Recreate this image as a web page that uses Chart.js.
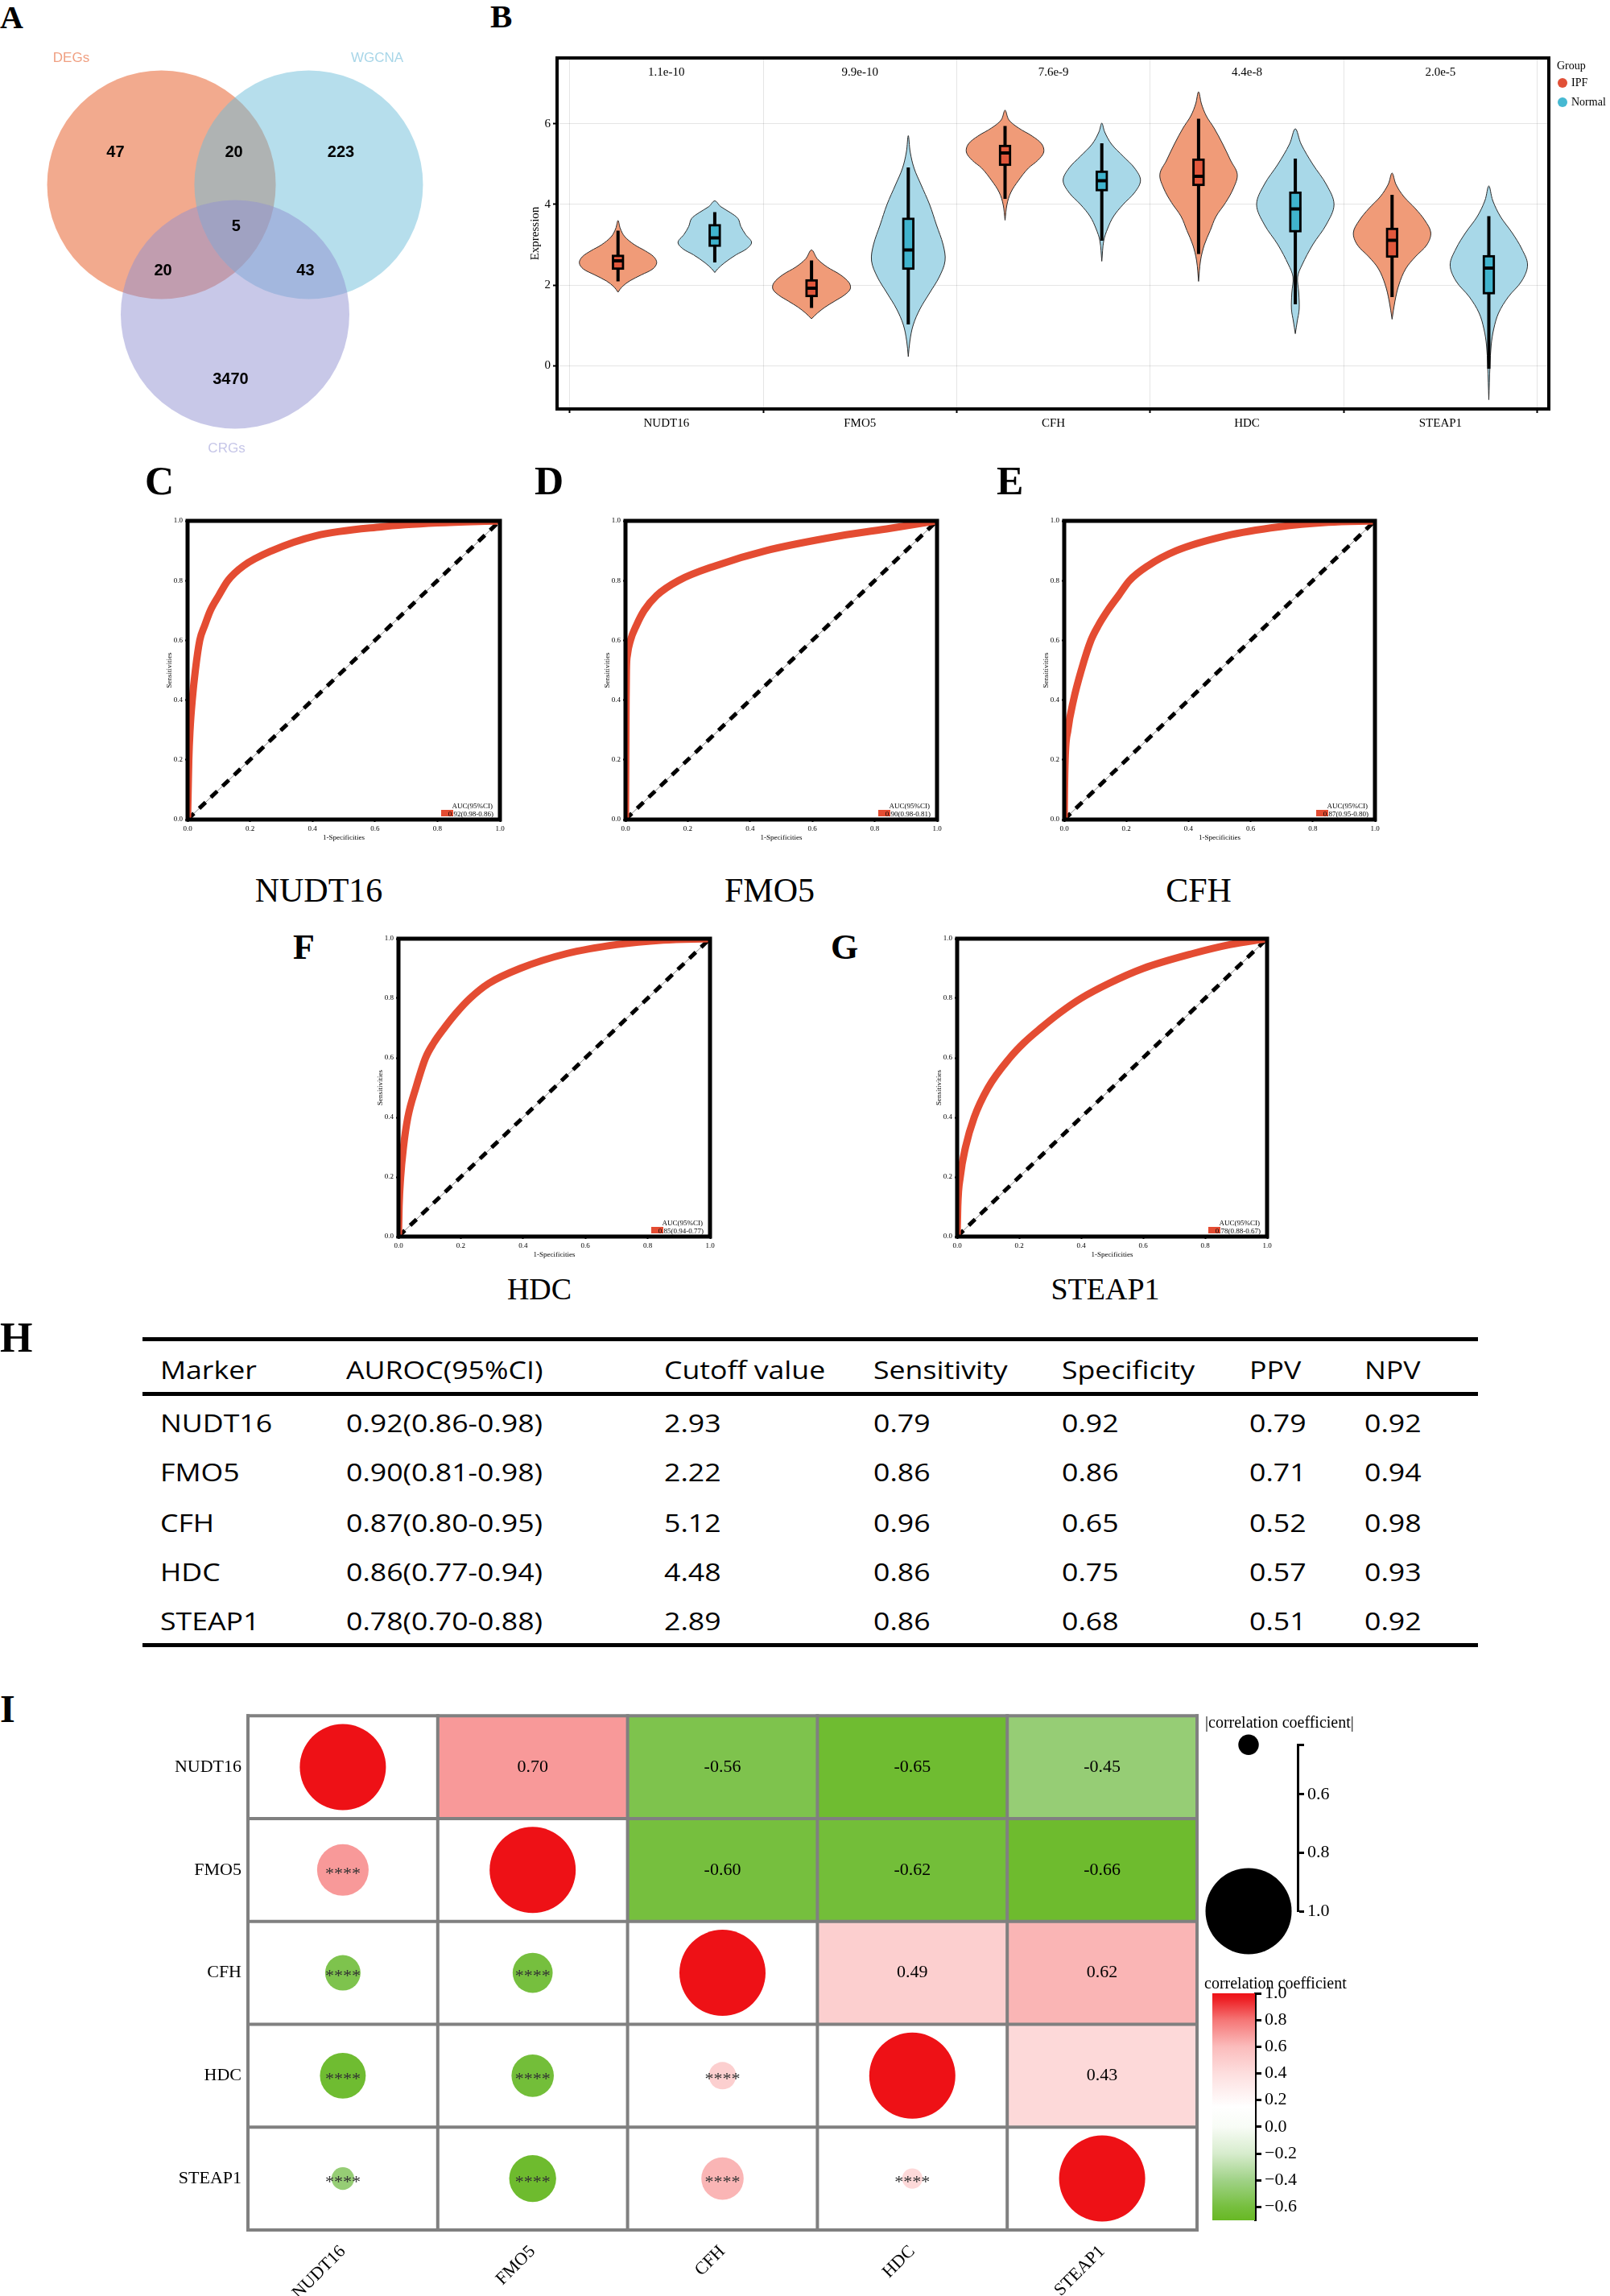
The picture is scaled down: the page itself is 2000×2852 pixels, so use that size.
<!DOCTYPE html>
<html><head><meta charset="utf-8">
<script src="https://cdn.jsdelivr.net/npm/chart.js@4.4.1/dist/chart.umd.min.js"></script>
<style>
html,body{margin:0;padding:0;background:#fff;}
#page{position:relative;width:2000px;height:2852px;overflow:hidden;background:#fff;}
canvas{position:absolute;}
.lbl{position:absolute;font-family:'Liberation Serif','Times New Roman',serif;font-weight:bold;line-height:1;color:#000;white-space:nowrap;}
.gt{position:absolute;font-family:'Liberation Serif','Times New Roman',serif;line-height:1;color:#000;white-space:nowrap;text-align:center;width:400px;}
.tc{position:absolute;font-family:'Open Sans',sans-serif;font-size:31px;line-height:1;color:#000;white-space:nowrap;transform-origin:left center;transform:translateY(-50%) scaleX(1.15);}
.rule{position:absolute;background:#000;}
.leg{position:absolute;font-family:'Liberation Serif','Times New Roman',serif;font-size:20px;line-height:1;color:#000;white-space:nowrap;transform:translateY(-50%);}
</style></head><body><div id="page"></div>
<script>
// ================= DATA =================
// Panel A (Venn) — set layout in unit-circle coordinates
const vennSets = ['DEGs','WGCNA','CRGs'];
const vennCenterX = [-0.644, 0.644, 0];
const vennCenterY = [0.567, 0.567, -0.567];
const vennRadius = [1, 1, 1];
const vennSetLabelX = [-1.433, 1.243, -0.074];
const vennSetLabelY = [1.673, 1.673, -1.743];
const vennCounts = ['47','20','223','5','20','43','3470'];
const vennCountX = [-1.046, -0.01, 0.926, 0.01, -0.63, 0.616, -0.039];
const vennCountY = [0.849, 0.849, 0.849, 0.2, -0.187, -0.187, -1.137];

// Panel B (violins): [expression, half-width] profiles
const violinGenes = ['NUDT16','FMO5','CFH','HDC','STEAP1'];
const violinGroups = ['IPF','Normal'];
const violinPValues = ['1.1e-10','9.9e-10','7.6e-9','4.4e-8','2.0e-5'];
const expressionTicks = [0, 2, 4, 6];
const nudt16IpfViolin = [[3.60,0],[3.40,0.012],[3.20,0.035],[3.00,0.085],[2.85,0.14],[2.70,0.185],[2.55,0.20],[2.40,0.18],[2.25,0.12],[2.10,0.06],[1.95,0.02],[1.82,0]];
const nudt16NormalViolin = [[4.09,0],[3.95,0.03],[3.80,0.08],[3.65,0.12],[3.45,0.135],[3.25,0.16],[3.06,0.19],[2.90,0.165],[2.75,0.11],[2.55,0.05],[2.40,0.015],[2.31,0]];
const fmo5IpfViolin = [[2.87,0],[2.65,0.03],[2.45,0.08],[2.25,0.15],[2.05,0.195],[1.90,0.20],[1.75,0.17],[1.60,0.12],[1.45,0.07],[1.30,0.03],[1.16,0]];
const fmo5NormalViolin = [[5.71,0],[5.30,0.01],[4.90,0.03],[4.50,0.065],[4.00,0.11],[3.50,0.145],[3.00,0.18],[2.60,0.19],[2.20,0.16],[1.80,0.11],[1.40,0.06],[1.00,0.025],[0.60,0.008],[0.22,0]];
const cfhIpfViolin = [[6.34,0],[6.10,0.02],[5.90,0.07],[5.70,0.14],[5.50,0.19],[5.30,0.20],[5.10,0.17],[4.90,0.12],[4.60,0.07],[4.30,0.03],[4.00,0.01],[3.61,0]];
const cfhNormalViolin = [[6.02,0],[5.80,0.015],[5.50,0.05],[5.20,0.11],[4.90,0.17],[4.60,0.20],[4.30,0.17],[4.00,0.11],[3.70,0.06],[3.40,0.03],[3.10,0.01],[2.59,0]];
const hdcIpfViolin = [[6.80,0],[6.50,0.015],[6.20,0.04],[5.90,0.08],[5.50,0.125],[5.10,0.165],[4.75,0.20],[4.40,0.18],[4.05,0.14],[3.70,0.09],[3.35,0.06],[3.00,0.03],[2.60,0.01],[2.09,0]];
const hdcNormalViolin = [[5.88,0],[5.50,0.03],[5.00,0.09],[4.50,0.16],[4.00,0.20],[3.50,0.16],[3.00,0.09],[2.50,0.035],[2.20,0.012],[1.80,0.018],[1.40,0.02],[1.10,0.01],[0.79,0]];
const steap1IpfViolin = [[4.78,0],[4.50,0.02],[4.20,0.06],[3.90,0.12],[3.60,0.17],[3.30,0.20],[3.00,0.18],[2.70,0.12],[2.40,0.07],[2.00,0.035],[1.60,0.015],[1.15,0]];
const steap1NormalViolin = [[4.46,0],[4.10,0.02],[3.70,0.06],[3.30,0.12],[2.90,0.17],[2.50,0.20],[2.10,0.17],[1.70,0.10],[1.30,0.05],[0.90,0.025],[0.50,0.012],[0.00,0.006],[-0.85,0]];
const ipfLow = [2.09, 1.43, 4.14, 2.77, 1.70];
const ipfQ1 = [2.38, 1.70, 4.96, 4.46, 2.68];
const ipfMedian = [2.60, 1.92, 5.28, 4.70, 3.11];
const ipfQ3 = [2.75, 2.14, 5.48, 5.14, 3.42];
const ipfHigh = [3.35, 2.61, 5.95, 6.13, 4.24];
const normalLow = [2.56, 1.02, 3.10, 1.52, -0.08];
const normalQ1 = [2.95, 2.38, 4.33, 3.31, 1.77];
const normalMedian = [3.17, 2.87, 4.59, 3.89, 2.42];
const normalQ3 = [3.51, 3.67, 4.84, 4.32, 2.74];
const normalHigh = [3.81, 4.92, 5.52, 5.14, 3.71];

// Panels C-G (ROC)
const rocGenes = ['NUDT16','FMO5','CFH','HDC','STEAP1'];
const rocAucLabels = ['0.92(0.98-0.86)','0.90(0.98-0.81)','0.87(0.95-0.80)','0.85(0.94-0.77)','0.78(0.88-0.67)'];
const rocNudt16Fpr = [0, 0.002, 0.004, 0.008, 0.015, 0.025, 0.039, 0.055, 0.073, 0.1, 0.129, 0.18, 0.27, 0.41, 0.62, 0.8, 1];
const rocNudt16Tpr = [0, 0.1, 0.2, 0.3, 0.4, 0.5, 0.6, 0.65, 0.7, 0.75, 0.8, 0.85, 0.9, 0.95, 0.98, 0.993, 1];
const rocFmo5Fpr = [0, 0.001, 0.002, 0.003, 0.006, 0.016, 0.035, 0.06, 0.1, 0.17, 0.29, 0.45, 0.69, 0.85, 1];
const rocFmo5Tpr = [0, 0.2, 0.4, 0.5, 0.55, 0.6, 0.65, 0.7, 0.75, 0.8, 0.85, 0.9, 0.95, 0.975, 1];
const rocCfhFpr = [0, 0.001, 0.003, 0.012, 0.03, 0.055, 0.086, 0.11, 0.14, 0.175, 0.21, 0.27, 0.36, 0.52, 0.69, 0.85, 1];
const rocCfhTpr = [0, 0.1, 0.2, 0.3, 0.4, 0.5, 0.6, 0.65, 0.7, 0.75, 0.8, 0.85, 0.9, 0.95, 0.98, 0.995, 1];
const rocHdcFpr = [0, 0.002, 0.007, 0.016, 0.03, 0.056, 0.087, 0.113, 0.147, 0.185, 0.23, 0.29, 0.39, 0.54, 0.7, 0.85, 1];
const rocHdcTpr = [0, 0.1, 0.2, 0.3, 0.4, 0.5, 0.6, 0.65, 0.7, 0.75, 0.8, 0.85, 0.9, 0.95, 0.98, 0.995, 1];
const rocSteap1Fpr = [0, 0.002, 0.01, 0.027, 0.055, 0.1, 0.17, 0.215, 0.27, 0.33, 0.4, 0.49, 0.6, 0.76, 0.88, 1];
const rocSteap1Tpr = [0, 0.1, 0.2, 0.3, 0.4, 0.5, 0.6, 0.65, 0.7, 0.75, 0.8, 0.85, 0.9, 0.95, 0.98, 1];
const rocTicks = [0, 0.2, 0.4, 0.6, 0.8, 1.0];

// Panel H (table)
const tableHeader = ['Marker','AUROC(95%CI)','Cutoff value','Sensitivity','Specificity','PPV','NPV'];
const tableMarkers = ['NUDT16','FMO5','CFH','HDC','STEAP1'];
const tableAuroc = ['0.92(0.86-0.98)','0.90(0.81-0.98)','0.87(0.80-0.95)','0.86(0.77-0.94)','0.78(0.70-0.88)'];
const tableCutoff = ['2.93','2.22','5.12','4.48','2.89'];
const tableSensitivity = ['0.79','0.86','0.96','0.86','0.86'];
const tableSpecificity = ['0.92','0.86','0.65','0.75','0.68'];
const tablePPV = ['0.79','0.71','0.52','0.57','0.51'];
const tableNPV = ['0.92','0.94','0.98','0.93','0.92'];

// Panel I (correlation)
const corrGenes = ['NUDT16','FMO5','CFH','HDC','STEAP1'];
const corrNUDT16 = [1, 0.70, -0.56, -0.65, -0.45];
const corrFMO5 = [0.70, 1, -0.60, -0.62, -0.66];
const corrCFH = [-0.56, -0.60, 1, 0.49, 0.62];
const corrHDC = [-0.65, -0.62, 0.49, 1, 0.43];
const corrSTEAP1 = [-0.45, -0.66, 0.62, 0.43, 1];
const corrSignif = '****';
const sizeLegendValues = [0.43, 1.0];
const sizeLegendTicks = [0.43, 0.6, 0.8, 1.0];
const colorbarTicks = [-0.6, -0.4, -0.2, 0, 0.2, 0.4, 0.6, 0.8, 1.0];
const colorbarRange = [-0.70, 1.0];

// ================= STYLE / HELPERS =================
const serif = "'Liberation Serif','Times New Roman',serif";
const sans = "'Liberation Sans',Arial,sans-serif";
Chart.defaults.font.family = serif;
Chart.defaults.color = '#000';
Chart.defaults.animation = false;
Chart.defaults.responsive = false;
Chart.defaults.events = [];
Chart.defaults.plugins.legend.display = false;
Chart.defaults.plugins.tooltip.enabled = false;

const page = document.getElementById('page');
function addCanvas(left, top, w, h) {
  const c = document.createElement('canvas');
  c.width = w; c.height = h;
  c.style.left = left + 'px'; c.style.top = top + 'px';
  c.style.width = w + 'px'; c.style.height = h + 'px';
  page.appendChild(c);
  return c;
}
function addDiv(cls, text, left, top, style) {
  const d = document.createElement('div');
  d.className = cls; d.textContent = text;
  d.style.left = left + 'px'; d.style.top = top + 'px';
  if (style) Object.assign(d.style, style);
  page.appendChild(d);
  return d;
}

// ================= PANEL LABELS =================
addDiv('lbl', 'A', 0, 2, {fontSize: '40px'});
addDiv('lbl', 'B', 609, 0, {fontSize: '41px'});
addDiv('lbl', 'C', 180, 572, {fontSize: '50px'});
addDiv('lbl', 'D', 664, 572, {fontSize: '50px'});
addDiv('lbl', 'E', 1238, 572, {fontSize: '50px'});
addDiv('lbl', 'F', 364, 1155, {fontSize: '44px'});
addDiv('lbl', 'G', 1032, 1155, {fontSize: '44px'});
addDiv('lbl', 'H', 0, 1636, {fontSize: '52px'});
addDiv('lbl', 'I', 0, 2099, {fontSize: '48px'});

// ================= PANEL A: VENN =================
(function () {
  const cv = addCanvas(8, 26, 568, 568);
  const fills = ['rgba(229,85,29,0.5)', 'rgba(109,189,217,0.5)', 'rgba(145,145,209,0.5)'];
  const labelColors = ['rgb(240,160,130)', 'rgb(168,214,232)', 'rgb(198,198,232)'];
  const chart = new Chart(cv, {
    type: 'bubble',
    data: {datasets: [{
      data: vennSets.map((s, i) => ({x: vennCenterX[i], y: vennCenterY[i], r: 1})),
      backgroundColor: fills, borderWidth: 0, clip: false
    }]},
    options: {
      layout: {padding: 0, autoPadding: false},
      scales: {x: {type: 'linear', min: -2, max: 2, display: false}, y: {type: 'linear', min: -2, max: 2, display: false}}
    },
    plugins: [{id: 'vennText', afterDatasetsDraw(chart) {
      const {ctx, scales: {x, y}} = chart;
      ctx.save();
      ctx.textAlign = 'center'; ctx.textBaseline = 'middle';
      ctx.font = '17px ' + sans;
      vennSets.forEach((s, i) => { ctx.fillStyle = labelColors[i]; ctx.fillText(s, x.getPixelForValue(vennSetLabelX[i]), y.getPixelForValue(vennSetLabelY[i])); });
      ctx.font = 'bold 20px ' + sans; ctx.fillStyle = '#000';
      vennCounts.forEach((c, i) => ctx.fillText(c, x.getPixelForValue(vennCountX[i]), y.getPixelForValue(vennCountY[i])));
      ctx.restore();
    }}]
  });
  // convert the unit radius into pixels through the x scale, then redraw
  const xs = chart.scales.x;
  const pxPerUnit = Math.abs(xs.getPixelForValue(1) - xs.getPixelForValue(0));
  chart.data.datasets[0].data.forEach((d, i) => { d.r = vennRadius[i] * pxPerUnit; });
  chart.update();
})();

// ================= PANEL B: VIOLINS =================
(function () {
  const cv = addCanvas(600, 40, 1400, 520);
  const violinFill = ['rgb(240,155,120)', 'rgb(168,216,232)'];
  const boxFill = ['rgb(226,88,60)', 'rgb(64,180,206)'];
  const dotColor = ['rgb(225,80,55)', 'rgb(70,185,210)'];
  const dodge = [-0.25, 0.25];
  const profiles = [
    [nudt16IpfViolin, fmo5IpfViolin, cfhIpfViolin, hdcIpfViolin, steap1IpfViolin],
    [nudt16NormalViolin, fmo5NormalViolin, cfhNormalViolin, hdcNormalViolin, steap1NormalViolin]
  ];
  const lows = [ipfLow, normalLow], q1s = [ipfQ1, normalQ1], meds = [ipfMedian, normalMedian], q3s = [ipfQ3, normalQ3], highs = [ipfHigh, normalHigh];
  function outline(profile, cx) {
    const asc = profile.slice().sort((a, b) => a[0] - b[0]);
    const pts = asc.map(p => ({x: cx + p[1], y: p[0]}));
    const desc = profile.slice().sort((a, b) => b[0] - a[0]);
    desc.slice(1).forEach(p => pts.push({x: cx - p[1], y: p[0]}));
    return pts;
  }
  const datasets = [];
  violinGroups.forEach((g, k) => {
    violinGenes.forEach((gene, i) => {
      datasets.push({type: 'scatter', data: outline(profiles[k][i], i + 1 + dodge[k]), showLine: true, fill: 'shape',
        backgroundColor: violinFill[k], borderColor: '#2a2a2a', borderWidth: 1, pointRadius: 0, tension: 0.35, order: 5});
    });
  });
  const whiskers = [];
  violinGroups.forEach((g, k) => violinGenes.forEach((gene, i) => {
    const cx = i + 1 + dodge[k];
    whiskers.push({x: cx, y: lows[k][i]}, {x: cx, y: highs[k][i]}, {x: cx, y: null});
  }));
  datasets.push({type: 'scatter', data: whiskers, showLine: true, spanGaps: false, borderColor: '#000', borderWidth: 4, pointRadius: 0, order: 3});
  violinGroups.forEach((g, k) => {
    datasets.push({type: 'bar', data: violinGenes.map((gene, i) => ({x: i + 1 + dodge[k], y: [q1s[k][i], q3s[k][i]]})),
      backgroundColor: boxFill[k], borderColor: '#000', borderWidth: 3, borderSkipped: false, barThickness: 15, grouped: false, order: 2});
    datasets.push({type: 'scatter', data: violinGenes.map((gene, i) => ({x: i + 1 + dodge[k], y: meds[k][i]})),
      pointStyle: 'line', pointRadius: 7, pointBorderWidth: 4, pointBorderColor: '#000', showLine: false, order: 1});
  });
  const gridCfg = {color: 'rgba(0,0,0,0.1)', lineWidth: 1, tickColor: '#000', tickLength: 5, tickWidth: 2};
  new Chart(cv, {
    type: 'scatter',
    data: {datasets},
    options: {
      layout: {padding: {left: 52, right: 76, top: 32, bottom: 12}, autoPadding: false},
      scales: {
        x: {type: 'linear', min: 0.435, max: 5.56, offset: false,
          afterBuildTicks: s => { s.ticks = violinGenes.map((g, i) => ({value: i + 1})); },
          afterFit: s => { s.height = 40; },
          ticks: {callback: v => violinGenes[v - 1], font: {size: 15}, color: '#000', padding: 4, autoSkip: false, maxRotation: 0},
          grid: gridCfg, border: {display: false}},
        y: {type: 'linear', min: -1.08, max: 7.64,
          afterBuildTicks: s => { s.ticks = expressionTicks.map(v => ({value: v})); },
          afterFit: s => { s.width = 40; },
          ticks: {font: {size: 15}, color: '#000', padding: 3},
          grid: gridCfg, border: {display: false},
          title: {display: true, text: 'Expression', font: {size: 15}, color: '#000', padding: {top: 4, bottom: 4}}}
      }
    },
    plugins: [{id: 'violinDecor', afterDatasetsDraw(chart) {
      const {ctx, chartArea: a, scales: {x}} = chart;
      ctx.save();
      ctx.lineWidth = 4; ctx.strokeStyle = '#000';
      ctx.strokeRect(a.left, a.top, a.right - a.left, a.bottom - a.top);
      ctx.font = '15px ' + serif; ctx.fillStyle = '#000'; ctx.textAlign = 'center'; ctx.textBaseline = 'middle';
      violinPValues.forEach((p, i) => ctx.fillText(p, x.getPixelForValue(i + 1), a.top + 18));
      ctx.textAlign = 'left';
      ctx.font = '14px ' + serif;
      ctx.fillText('Group', a.right + 10, a.top + 10);
      violinGroups.forEach((g, k) => {
        const yy = a.top + 31 + k * 24;
        ctx.fillStyle = dotColor[k]; ctx.beginPath(); ctx.arc(a.right + 17, yy, 6, 0, Math.PI * 2); ctx.fill();
        ctx.fillStyle = '#000'; ctx.fillText(g, a.right + 28, yy);
      });
      ctx.restore();
    }}]
  });
})();

// ================= PANELS C-G: ROC =================
(function () {
  const rocFpr = [rocNudt16Fpr, rocFmo5Fpr, rocCfhFpr, rocHdcFpr, rocSteap1Fpr];
  const rocTpr = [rocNudt16Tpr, rocFmo5Tpr, rocCfhTpr, rocHdcTpr, rocSteap1Tpr];
  const frames = [[233, 647, 621, 1018], [777, 647, 1164, 1018], [1322, 647, 1708, 1018], [495, 1166, 882, 1536], [1189, 1166, 1574, 1536]];
  const titleCenters = [[396, 1085, 42], [956, 1085, 42], [1489, 1085, 42], [670, 1582, 38], [1373, 1582, 38]];
  const rocColor = 'rgb(228,76,50)';
  rocGenes.forEach((gene, n) => {
    const [L, T, R, B] = frames[n];
    const cv = addCanvas(L - 45, T - 12, (R - L) + 57, (B - T) + 52);
    const axisBase = {min: 0, max: 1,
      afterBuildTicks: s => { s.ticks = rocTicks.map(v => ({value: v})); },
      ticks: {font: {size: 9}, color: '#000', padding: 3, callback: v => v.toFixed(1)},
      grid: {display: true, drawOnChartArea: false, tickLength: 3, tickColor: '#000', tickWidth: 2},
      border: {display: false}};
    new Chart(cv, {
      type: 'scatter',
      data: {datasets: [
        {data: rocFpr[n].map((f, i) => ({x: f, y: rocTpr[n][i]})), showLine: true, borderColor: rocColor, borderWidth: 9,
          pointRadius: 0, cubicInterpolationMode: 'monotone', order: 1},
        {data: [{x: 0, y: 0}, {x: 1, y: 1}], showLine: true, borderColor: '#000', borderWidth: 5, borderDash: [11, 9], pointRadius: 0, order: 2},
        {data: [{x: 0, y: 0}, {x: 1, y: 1}], showLine: true, borderColor: '#8a8a8a', borderWidth: 1, pointRadius: 0, order: 3}
      ]},
      options: {
        layout: {padding: {left: 5, top: 12, right: 12, bottom: 5}, autoPadding: false},
        scales: {
          x: Object.assign({}, axisBase, {afterFit: s => { s.height = 35; },
            title: {display: true, text: '1-Specificities', font: {size: 9}, color: '#000', padding: {top: 0, bottom: 7}}}),
          y: Object.assign({}, axisBase, {afterFit: s => { s.width = 40; },
            title: {display: true, text: 'Sensitivities', font: {size: 9}, color: '#000', padding: {top: 12, bottom: 0}}})
        }
      },
      plugins: [{id: 'rocDecor', afterDatasetsDraw(chart) {
        const {ctx, chartArea: a} = chart;
        ctx.save();
        ctx.lineWidth = 5; ctx.strokeStyle = '#000';
        ctx.strokeRect(a.left, a.top, a.right - a.left, a.bottom - a.top);
        ctx.fillStyle = rocColor; ctx.fillRect(a.right - 73, a.bottom - 12, 15, 8);
        ctx.fillStyle = '#000'; ctx.font = '9px ' + serif; ctx.textAlign = 'right'; ctx.textBaseline = 'alphabetic';
        ctx.fillText('AUC(95%CI)', a.right - 9, a.bottom - 14);
        ctx.fillText(rocAucLabels[n], a.right - 8, a.bottom - 4);
        ctx.restore();
      }}]
    });
    const [cx, ty, fs] = titleCenters[n];
    addDiv('gt', gene, cx - 200, ty, {fontSize: fs + 'px'});
  });
})();

// ================= PANEL H: TABLE =================
(function () {
  const colX = [199, 430, 825, 1085, 1319, 1552, 1695];
  const rowY = [1701, 1767, 1828, 1891, 1952, 2013];
  const cols = [tableMarkers, tableAuroc, tableCutoff, tableSensitivity, tableSpecificity, tablePPV, tableNPV];
  tableHeader.forEach((h, c) => addDiv('tc', h, colX[c], rowY[0]));
  tableMarkers.forEach((m, r) => cols.forEach((col, c) => addDiv('tc', col[r], colX[c], rowY[r + 1])));
  [[1661, 5], [1729, 5], [2041, 5]].forEach(([y, h]) => addDiv('rule', '', 177, y, {width: '1659px', height: h + 'px'}));
})();

// ================= PANEL I: CORRELATION =================
const corrStopVals = [-0.70, -0.60, -0.40, -0.20, 0.00, 0.15, 0.40, 0.60, 0.80, 0.95, 1.00];
const corrStopCols = [[104,184,36],[118,191,62],[160,210,135],[215,236,205],[248,252,246],[255,255,255],[253,222,222],[251,188,188],[245,118,118],[238,35,40],[238,17,22]];
function corrColor(v) {
  if (v <= corrStopVals[0]) return 'rgb(' + corrStopCols[0].join(',') + ')';
  for (let k = 1; k < corrStopVals.length; k++) {
    if (v <= corrStopVals[k]) {
      const t = (v - corrStopVals[k - 1]) / (corrStopVals[k] - corrStopVals[k - 1]);
      const c = corrStopCols[k - 1].map((a, j) => Math.round(a + (corrStopCols[k][j] - a) * t));
      return 'rgb(' + c.join(',') + ')';
    }
  }
  return 'rgb(' + corrStopCols[corrStopCols.length - 1].join(',') + ')';
}
const sizeMinAbs = 0.43, sizeMinR = 12.7, sizeMaxR = 53.5;
const sizeOf = a => sizeMinR + (sizeMaxR - sizeMinR) * (a - sizeMinAbs) / (1 - sizeMinAbs);

(function () {
  const matrix = [corrNUDT16, corrFMO5, corrCFH, corrHDC, corrSTEAP1];
  const cells = [], dots = [];
  matrix.forEach((row, i) => row.forEach((v, j) => {
    if (j > i) cells.push({x: corrGenes[j], y: [i, i + 1], v});
    else dots.push({x: corrGenes[j], y: i + 0.5, v});
  }));
  const cv = addCanvas(190, 2110, 1310, 742);
  new Chart(cv, {
    type: 'bar',
    data: {labels: corrGenes, datasets: [
      {type: 'bar', data: cells, backgroundColor: ctx => (ctx.raw ? corrColor(ctx.raw.v) : '#fff'), borderWidth: 0,
        barPercentage: 1, categoryPercentage: 1, order: 2},
      {type: 'bubble', data: dots, backgroundColor: ctx => (ctx.raw ? corrColor(ctx.raw.v) : '#fff'), borderWidth: 0,
        radius: ctx => (ctx.raw ? sizeOf(Math.abs(ctx.raw.v)) : 0), clip: false, order: 1}
    ]},
    options: {
      layout: {padding: {left: 0, top: 13, right: 13, bottom: 0}, autoPadding: false},
      scales: {
        x: {type: 'category', offset: true, grid: {display: false, drawTicks: false}, border: {display: false},
          ticks: {font: {size: 22}, color: '#000', minRotation: 45, maxRotation: 45, padding: 14, autoSkip: false},
          afterFit: s => { s.height = 82; }},
        y: {type: 'linear', min: 0, max: 5, reverse: true, grid: {display: false, drawTicks: false}, border: {display: false},
          afterBuildTicks: s => { s.ticks = corrGenes.map((g, i) => ({value: i + 0.5})); },
          ticks: {callback: (v, i) => corrGenes[i], font: {size: 22}, color: '#000', padding: 8},
          afterFit: s => { s.width = 118; }}
      }
    },
    plugins: [{id: 'corrDecor', afterDatasetsDraw(chart) {
      const {ctx, chartArea: a, scales: {x, y}} = chart;
      ctx.save();
      ctx.strokeStyle = 'rgb(128,128,128)'; ctx.lineWidth = 4; ctx.lineCap = 'square';
      for (let k = 0; k <= corrGenes.length; k++) {
        const px = x.getPixelForValue(k - 0.5);
        ctx.beginPath(); ctx.moveTo(px, a.top); ctx.lineTo(px, a.bottom); ctx.stroke();
        const py = y.getPixelForValue(k);
        ctx.beginPath(); ctx.moveTo(a.left, py); ctx.lineTo(a.right, py); ctx.stroke();
      }
      ctx.font = '22px ' + serif; ctx.textAlign = 'center'; ctx.textBaseline = 'middle';
      matrix.forEach((row, i) => row.forEach((v, j) => {
        const px = x.getPixelForValue(j), py = y.getPixelForValue(i + 0.5);
        if (j > i) { ctx.fillStyle = '#000'; ctx.fillText(v.toFixed(2), px, py); }
        else if (j < i) { ctx.fillStyle = '#333'; ctx.fillText(corrSignif, px, py + 5); }
      }));
      ctx.restore();
    }}]
  });

  // size legend
  addDiv('leg', '|correlation coefficient|', 1497, 2139);
  const cv2 = addCanvas(1490, 2150, 200, 290);
  new Chart(cv2, {
    type: 'bubble',
    data: {datasets: [{data: sizeLegendValues.map(v => ({x: 0.5, y: v, v})), backgroundColor: '#000', borderWidth: 0, clip: false,
      radius: ctx => (ctx.raw ? sizeOf(ctx.raw.v) : 0)}]},
    options: {
      layout: {padding: {left: 0, right: 0, top: 16, bottom: 66}, autoPadding: false},
      scales: {
        x: {type: 'linear', min: 0, max: 1, display: false},
        y: {type: 'linear', position: 'right', min: 0.43, max: 1.0, reverse: true,
          afterBuildTicks: s => { s.ticks = sizeLegendTicks.map(v => ({value: v})); },
          ticks: {callback: (v, i) => (i === 0 ? '' : v.toFixed(1)), font: {size: 22}, color: '#000', padding: 4},
          grid: {display: true, drawOnChartArea: false, tickLength: 8, tickWidth: 3, tickColor: '#000'},
          border: {display: true, color: '#000', width: 3},
          afterFit: s => { s.width = 78; }}
      }
    }
  });

  // colour bar
  addDiv('leg', 'correlation coefficient', 1496, 2463);
  const cv3 = addCanvas(1500, 2450, 130, 330);
  new Chart(cv3, {
    type: 'bar',
    data: {labels: [''], datasets: [{data: [colorbarRange], borderWidth: 0, barPercentage: 1, categoryPercentage: 1,
      backgroundColor: ctx => {
        const ch = ctx.chart; if (!ch.chartArea) return '#fff';
        const ys = ch.scales.y;
        const y0 = ys.getPixelForValue(colorbarRange[0]), y1 = ys.getPixelForValue(colorbarRange[1]);
        const g = ch.ctx.createLinearGradient(0, y0, 0, y1);
        corrStopVals.forEach(v => g.addColorStop((v - colorbarRange[0]) / (colorbarRange[1] - colorbarRange[0]), corrColor(v)));
        return g;
      }}]},
    options: {
      layout: {padding: {left: 6, right: 0, top: 26, bottom: 22}, autoPadding: false},
      scales: {
        x: {display: false},
        y: {type: 'linear', position: 'right', min: colorbarRange[0], max: colorbarRange[1],
          afterBuildTicks: s => { s.ticks = colorbarTicks.map(v => ({value: v})); },
          ticks: {callback: v => (v < 0 ? '\u2212' : '') + Math.abs(v).toFixed(1), font: {size: 22}, color: '#000', padding: 4},
          grid: {display: true, drawOnChartArea: false, tickLength: 8, tickWidth: 3, tickColor: '#000'},
          border: {display: true, color: '#000', width: 3},
          afterFit: s => { s.width = 71; }}
      }
    }
  });
})();
</script></body></html>
